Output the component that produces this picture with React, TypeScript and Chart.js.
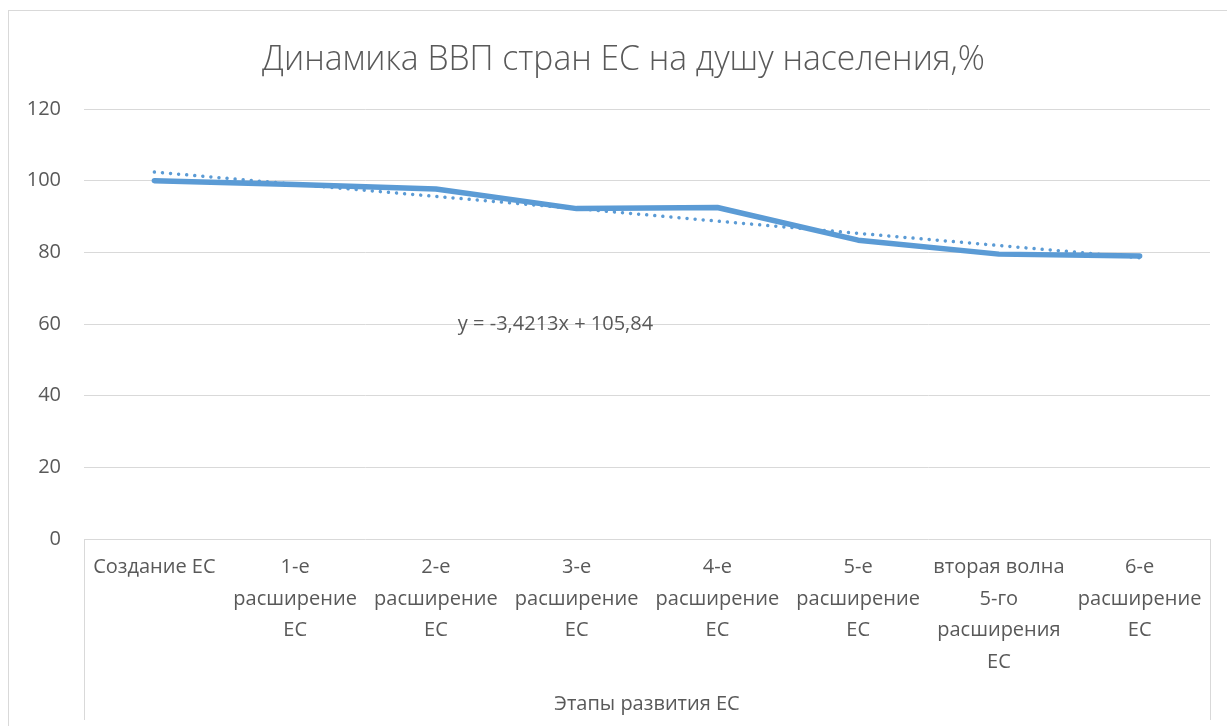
import React, { useEffect, useRef } from "react";
import { Chart, registerables } from "chart.js";

Chart.register(...registerables);

const categories: string[][] = [
  ["Создание ЕС"],
  ["1-е", "расширение", "ЕС"],
  ["2-е", "расширение", "ЕС"],
  ["3-е", "расширение", "ЕС"],
  ["4-е", "расширение", "ЕС"],
  ["5-е", "расширение", "ЕС"],
  ["вторая волна", "5-го", "расширения", "ЕС"],
  ["6-е", "расширение", "ЕС"],
];

const gdpValues: number[] = [100, 98.9, 97.7, 92.2, 92.5, 83.4, 79.5, 79.0];
const trendValues: number[] = [102.4, 99.0, 95.6, 92.2, 88.7, 85.3, 81.9, 78.5];
const yTicks: number[] = [0, 20, 40, 60, 80, 100, 120];

const titleText = "Динамика ВВП стран ЕС на душу населения,%";
const xTitleText = "Этапы развития ЕС";
const equationText = "y = -3,4213x + 105,84";

const TEXT = "#595959";
const GRID = "#D9D9D9";
const LINE = "#5B9BD5";
const FONT = "'Open Sans', 'Noto Sans', sans-serif";

const decorPlugin = {
  id: "decor",
  beforeDraw(chart: any) {
    const { ctx, chartArea } = chart;
    ctx.save();
    ctx.fillStyle = "#ffffff";
    ctx.fillRect(0, 0, chart.width, chart.height);
    ctx.strokeStyle = GRID;
    ctx.lineWidth = 1;
    ctx.strokeRect(8.5, 10.5, 1400, 900);
    ctx.beginPath();
    ctx.moveTo(Math.round(chartArea.left) + 0.5, chartArea.bottom);
    ctx.lineTo(Math.round(chartArea.left) + 0.5, 720);
    ctx.moveTo(Math.round(chartArea.right) + 0.5, chartArea.bottom);
    ctx.lineTo(Math.round(chartArea.right) + 0.5, 720);
    ctx.stroke();
    ctx.restore();
  },
  afterDraw(chart: any) {
    const { ctx, chartArea, scales } = chart;
    ctx.save();
    ctx.fillStyle = TEXT;
    ctx.font = `300 35px ${FONT}`;
    ctx.textAlign = "center";
    ctx.textBaseline = "alphabetic";
    const w = ctx.measureText(titleText).width;
    const sx = 723 / w;
    ctx.save();
    ctx.translate(623.5, 70);
    ctx.scale(sx, 1);
    ctx.fillText(titleText, 0, 0);
    ctx.restore();
    ctx.font = `20px ${FONT}`;
    ctx.textBaseline = "middle";
    ctx.fillText(xTitleText, (chartArea.left + chartArea.right) / 2, 704);
    const ex = scales.x.getPixelForValue(2.85);
    const ey = scales.y.getPixelForValue(60);
    ctx.fillText(equationText, ex, ey);
    ctx.restore();
  },
};

export default function App() {
  const ref = useRef<HTMLCanvasElement | null>(null);
  useEffect(() => {
    document.body.style.margin = "0";
    document.body.style.overflow = "hidden";
    const canvas = ref.current;
    if (!canvas) return;
    const chart = new Chart(canvas, {
      type: "line",
      data: {
        labels: categories,
        datasets: [
          {
            label: "Линейная (тренд)",
            data: trendValues,
            borderColor: LINE,
            borderWidth: 3.5,
            borderDash: [0.001, 8.1],
            borderCapStyle: "round",
            pointRadius: 0,
            fill: false,
            tension: 0,
            order: 0,
          },
          {
            label: "ВВП",
            data: gdpValues,
            borderColor: LINE,
            borderWidth: 5.5,
            borderCapStyle: "round",
            borderJoinStyle: "round",
            pointRadius: 0,
            fill: false,
            tension: 0,
            order: 1,
          },
        ],
      },
      options: {
        responsive: false,
        animation: false,
        devicePixelRatio: 1,
        layout: { padding: { top: 109, right: 17, left: 0, bottom: 0 } },
        plugins: {
          legend: { display: false },
          title: { display: false },
          tooltip: { enabled: false },
        },
        scales: {
          x: {
            type: "category",
            offset: true,
            grid: { display: false, drawTicks: false },
            border: { display: false },
            ticks: {
              color: TEXT,
              font: { family: FONT, size: 20, lineHeight: 1.575 },
              padding: 13,
              maxRotation: 0,
              minRotation: 0,
              autoSkip: false,
            },
            afterFit(scale: any) {
              scale.height = 187;
            },
          },
          y: {
            min: 0,
            max: 120,
            afterBuildTicks(scale: any) {
              scale.ticks = yTicks.map((v) => ({ value: v }));
            },
            grid: { color: GRID, lineWidth: 1, drawTicks: false },
            border: { display: false },
            ticks: {
              color: TEXT,
              font: { family: FONT, size: 20 },
              padding: 23,
            },
            afterFit(scale: any) {
              scale.width = 84;
            },
          },
        },
      },
      plugins: [decorPlugin],
    });
    return () => chart.destroy();
  }, []);
  return <canvas ref={ref} width={1227} height={726} style={{ display: "block" }} />;
}
